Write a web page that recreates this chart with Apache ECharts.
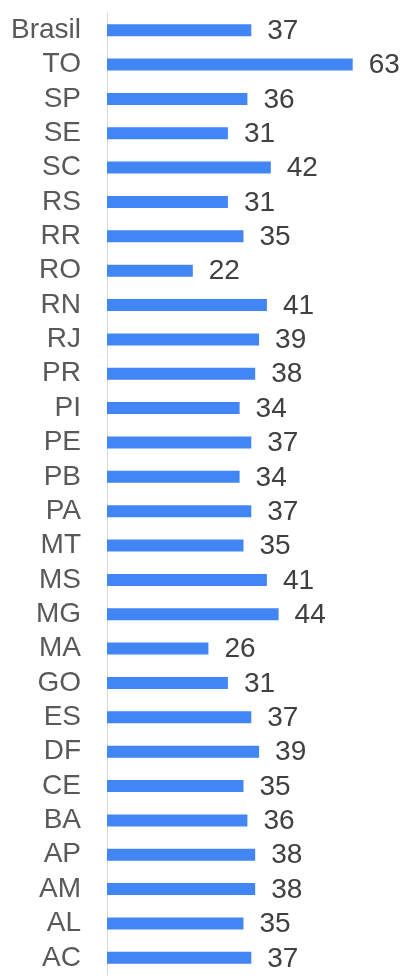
<!DOCTYPE html>
<html>
<head>
<meta charset="utf-8">
<script src="https://cdn.jsdelivr.net/npm/echarts@6/dist/echarts.min.js"></script>
<style>
  html, body { margin: 0; padding: 0; background: #fff; }
  #chart { width: 406px; height: 978px; }
</style>
</head>
<body>
<div id="chart"></div>
<script>
// states, top to bottom as shown
var estados = ['Brasil', 'TO', 'SP', 'SE', 'SC', 'RS', 'RR', 'RO', 'RN', 'RJ', 'PR', 'PI', 'PE', 'PB',
    'PA', 'MT', 'MS', 'MG', 'MA', 'GO', 'ES', 'DF', 'CE', 'BA', 'AP', 'AM', 'AL', 'AC'];
var valores = [37, 63, 36, 31, 42, 31, 35, 22, 41, 39, 38, 34, 37, 34,
    37, 35, 41, 44, 26, 31, 37, 39, 35, 36, 38, 38, 35, 37];

var myChart = echarts.init(document.getElementById('chart'));
var option;

option = {
    animation: false,
    textStyle: {
        fontFamily: 'Liberation Sans, Arial, sans-serif'
    },
    grid: {
        left: 107,
        right: 26,
        top: 13,
        bottom: 3
    },
    xAxis: {
        type: 'value',
        min: 0,
        max: 70,
        show: false,
        splitLine: { show: false }
    },
    yAxis: {
        type: 'category',
        inverse: true,
        data: estados,
        axisLine: {
            show: true,
            lineStyle: { color: '#d9d9d9', width: 1 }
        },
        axisTick: { show: false },
        axisLabel: {
            interval: 0,
            color: '#595959',
            fontSize: 28,
            margin: 26
        }
    },
    series: [
        {
            type: 'bar',
            data: valores,
            barWidth: 12,
            itemStyle: { color: '#4285f4' },
            label: {
                show: true,
                position: 'right',
                distance: 16,
                color: '#404040',
                fontSize: 28,
                offset: [0, 1]
            }
        }
    ]
};

option && myChart.setOption(option);
</script>
</body>
</html>
